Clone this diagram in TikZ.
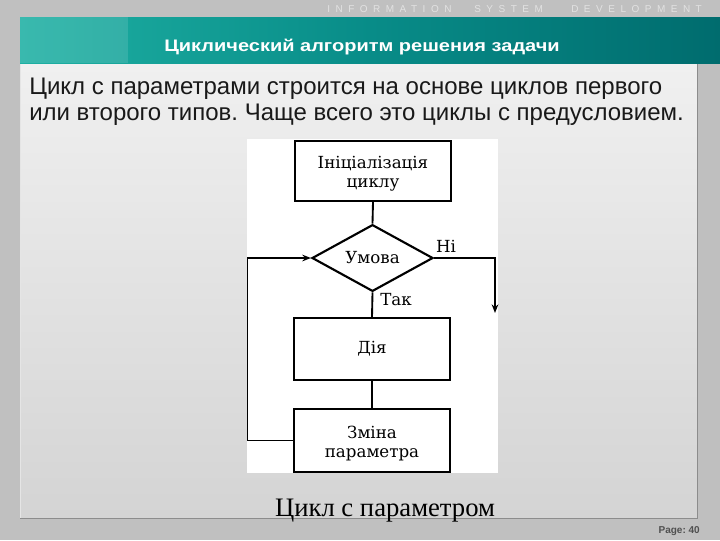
\documentclass[tikz,border=0pt]{standalone}
\usepackage{fontspec}
\setmainfont{Liberation Serif}
\newfontfamily\bodyfont{Liberation Sans}
\newfontfamily\titlefont[FakeStretch=1.2]{Liberation Sans}
\newfontfamily\hdrfont[LetterSpace=55]{Liberation Sans}
\newfontfamily\pagefont{Liberation Sans}
\newfontfamily\diafont{DejaVu Serif}
\usetikzlibrary{shapes.geometric,arrows.meta}
\definecolor{slidebg}{RGB}{192,192,192}
\definecolor{tealL}{RGB}{30,176,163}
\definecolor{tealR}{RGB}{0,108,110}
\definecolor{panelT}{RGB}{240,240,240}
\definecolor{panelB}{RGB}{212,212,212}
\definecolor{hdrtext}{RGB}{226,226,226}
\definecolor{pagetext}{RGB}{80,80,80}
\tikzset{
  blk/.style={draw=black, line width=1.6pt, rectangle, minimum width=117pt, align=center, font=\diafont\fontsize{12.5}{14.5}\selectfont, inner sep=0pt},
  cond/.style={draw=black, line width=1.6pt, diamond, minimum width=90.75pt, minimum height=44.25pt, inner sep=0pt, font=\diafont\fontsize{12.5}{14.5}\selectfont},
  conn/.style={line width=1.4pt},
  arr/.style={line width=1.4pt, -{Stealth[length=6.5pt,width=5pt]}},
  lbl/.style={font=\diafont\fontsize{12.5}{14.5}\selectfont, inner sep=0pt},
  bodytxt/.style={font=\bodyfont\fontsize{18}{20}\selectfont, anchor=base west, inner sep=0pt, text=black!90},
  hdr/.style={font=\hdrfont\fontsize{7.5}{9}\selectfont, anchor=base west, inner sep=0pt, text=hdrtext}
}
\begin{document}
\frenchspacing
\begin{tikzpicture}[x=0.75pt,y=-0.75pt]
\useasboundingbox (0,0) rectangle (720,540);
% slide background
\fill[slidebg] (0,0) rectangle (720,540);
\fill[black!25] (698,63) rectangle (720,540);
% panel
\shade[top color=panelT, bottom color=panelB] (20,63) rectangle (697,518);
\draw[black!45, line width=0.6pt] (697,63) -- (697,518) -- (20,518);
\draw[black!10, line width=0.6pt] (20,63) -- (20,518);
% banner
\shade[left color=tealL, right color=tealR, middle color={rgb,255:red,8;green,140;blue,136}] (20,17) rectangle (720,63);
\fill[white, opacity=0.12] (20,17) rectangle (128,63);
% header letters
\node[hdr] (h1) at (327,12) {INFORMATION};
\node[hdr] (h2) at (474,12) {SYSTEM};
\node[hdr] (h3) at (571,12) {DEVELOPMENT};
% title
\node[font=\titlefont\bfseries\fontsize{12.5}{15}\selectfont, text=white, anchor=base, inner sep=0pt] (title) at (362,51) {Циклический алгоритм решения задачи};
% body
\node[bodytxt] (l1) at (29,94) {Цикл с параметрами строится на основе циклов первого};
\node[bodytxt] (l2) at (29,120) {или второго типов. Чаще всего это циклы с предусловием.};
% picture area
\fill[white] (247,139) rectangle (498,473);
% flowchart
\node[blk, minimum height=45pt] (init) at (373,171) {\rule{0pt}{13pt}Ініціалізація\\циклу};
\node[cond] (c) at (372.5,258) {Умова};
\node[blk, minimum height=46.5pt] (act) at (372,349) {Дія};
\node[blk, minimum height=47.25pt] (chg) at (372,440.5) {\rule{0pt}{14pt}Зміна\\параметра};
\coordinate (ne) at (495,258);
\coordinate (nend) at (495,313);
\coordinate (lb) at (247.5,440.5);
\coordinate (lt) at (247.5,258);
\draw[conn] (init.south) -- (c.north);
\draw[conn] (c.south) -- (act.north);
\draw[conn] (act.south) -- (chg.north);
\draw[arr] (c.east) -- (ne) -- (nend);
\draw[arr] (chg.west) -- (lb) -- (lt) -- (c.west);
\node[lbl] (ni) at (446,246) {Ні};
\node[lbl] (tak) at (396,300) {Так};
% caption
\node[font=\fontsize{20}{24}\selectfont, anchor=base, inner sep=0pt] (cap) at (385,516) {Цикл с параметром};
\node[font=\pagefont\bfseries\fontsize{7.5}{9}\selectfont, text=pagetext, anchor=base east, inner sep=0pt] (pg) at (700,533) {Page: 40};
\end{tikzpicture}
\end{document}
